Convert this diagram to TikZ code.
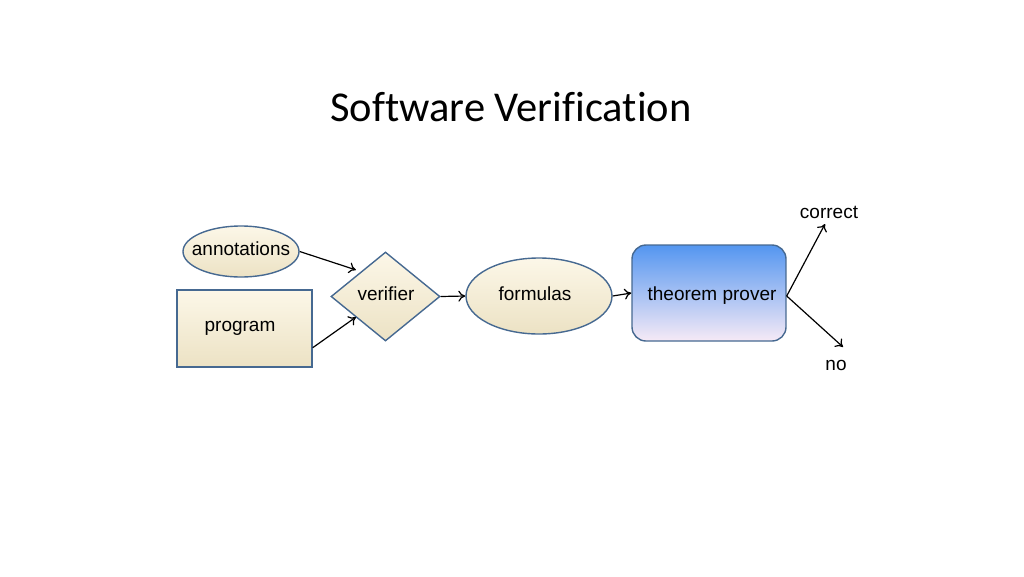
\documentclass[tikz,border=0pt]{standalone}
\usepackage{fontspec}
\setmainfont{Liberation Sans}
\newfontfamily\titlefont[Ligatures={NoCommon,NoDiscretionary,NoContextual}]{Carlito}
\usetikzlibrary{shapes.geometric,arrows.meta,calc}
\definecolor{edgeblue}{RGB}{70,105,145}
\definecolor{creamtop}{RGB}{252,247,232}
\definecolor{creambot}{RGB}{236,226,196}
\definecolor{tptop}{RGB}{84,150,240}
\definecolor{tpmid}{RGB}{125,176,236}
\definecolor{tpbot}{RGB}{246,234,246}
\tikzset{
  shapebox/.style={draw=edgeblue, line width=1.4pt, top color=creamtop, bottom color=creambot, inner sep=0pt},
  lbl/.style={font=\fontsize{19}{22}\selectfont, inner sep=0pt},
  conn/.style={-{To[length=7pt,width=11pt]}, line width=1.2pt, black}
}
\begin{document}
\begin{tikzpicture}[x=1pt,y=-1pt]
\useasboundingbox (0,0) rectangle (1024,576);
\node[font=\titlefont\fontsize{42.5}{48}\selectfont] (title) at (511,107) {Software Verification};
% shapes
\node[shapebox, ellipse, minimum width=116pt, minimum height=51pt] (ann) at (241,251.5) {};
\node[shapebox, rectangle, minimum width=135pt, minimum height=77pt] (prog) at (244.5,328.5) {};
\node[shapebox, diamond, minimum width=109pt, minimum height=89pt] (ver) at (385.5,296.5) {};
\node[shapebox, ellipse, minimum width=146pt, minimum height=76pt] (form) at (539,296) {};
\node[draw=edgeblue, line width=1.4pt, rounded corners=14pt, top color=tptop, middle color=tpmid, bottom color=tpbot, minimum width=154pt, minimum height=96pt, inner sep=0pt] (tp) at (709,293) {};
% texts
\node[lbl] (annt) at (241,249) {annotations};
\node[lbl] (progt) at (240,328) {program};
\node[lbl] (vert) at (386,294) {verifier};
\node[lbl] (formt) at (535,294) {formulas};
\node[lbl] (tpt) at (712,296) {theorem prover};
\node[lbl] (corr) at (829,212) {correct};
\node[lbl] (no) at (836,365) {no};
% connectors
\coordinate (cend) at (825,224);
\coordinate (nend) at (843,347);
\draw[conn] (ann.east) -- ([xshift=-2pt,yshift=4pt]ver.north west);
\draw[conn] ([yshift=20pt]prog.south east) -- ([xshift=-2pt,yshift=2pt]ver.south west);
\draw[conn] (ver.east) -- (form.west);
\draw[conn] (form.east) -- (tp.west);
\draw[conn] ([yshift=-3pt]tp.east) -- (cend);
\draw[conn] ([yshift=-3pt]tp.east) -- (nend);
\end{tikzpicture}
\end{document}
